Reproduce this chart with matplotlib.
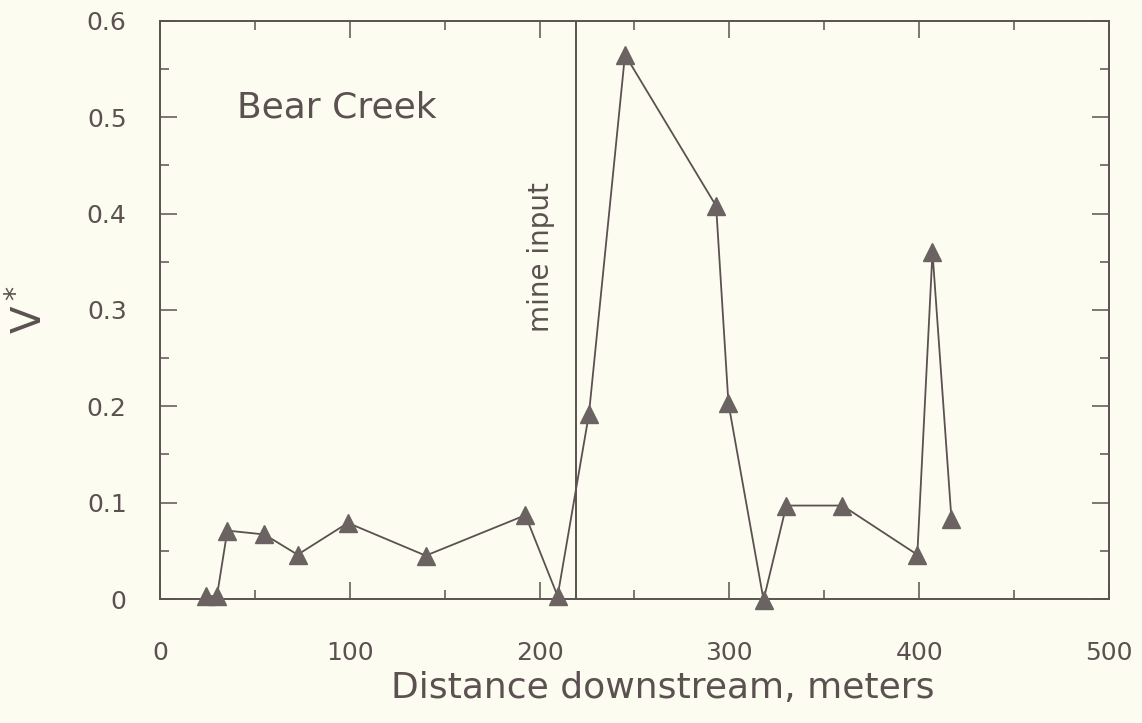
import matplotlib.pyplot as plt
from matplotlib.ticker import MultipleLocator

# distance downstream (m) and V*
distance = [24, 30, 35.5, 55, 72.5, 99, 140, 192.5, 209.5, 226, 245, 293, 299.5,
            318, 330, 359.5, 399, 407, 417]
v_star = [0.003, 0.003, 0.071, 0.067, 0.046, 0.079, 0.045, 0.087, 0.003, 0.192,
          0.565, 0.408, 0.203, -0.001, 0.097, 0.097, 0.046, 0.360, 0.083]

mine_input_x = 219
y_ticks = [0, 0.1, 0.2, 0.3, 0.4, 0.5, 0.6]
y_tick_labels = ['0', '0.1', '0.2', '0.3', '0.4', '0.5', '0.6']
x_ticks = [0, 100, 200, 300, 400, 500]

ink = '#5b5151'
paper = '#fcfdf0'

plt.rcParams['font.family'] = 'DejaVu Sans'
plt.rcParams['mathtext.default'] = 'regular'
fig = plt.figure(figsize=(11.42, 7.23), dpi=100, facecolor=paper)
ax = fig.add_axes([0.1401, 0.1715, 0.8310, 0.7995], facecolor=paper)

# mine input line
ax.axvline(mine_input_x, color=ink, lw=1.4, zorder=1)
ax.text(201, 0.355, 'mine input', rotation=90, ha='center', va='center',
        fontsize=20, color=ink)

ax.plot(distance, v_star, color=ink, lw=1.3, marker='^', markersize=13,
        markerfacecolor='#6b6262', markeredgecolor='#6b6262', zorder=3,
        clip_on=False)

ax.text(40.5, 0.5, 'Bear Creek', ha='left', va='baseline', fontsize=26, color=ink)

ax.set_xlim(0, 500)
ax.set_ylim(0, 0.6)
ax.set_xticks(x_ticks)
ax.set_yticks(y_ticks)
ax.set_yticklabels(y_tick_labels)
ax.xaxis.set_minor_locator(MultipleLocator(50))
ax.yaxis.set_minor_locator(MultipleLocator(0.05))

ax.tick_params(which='both', direction='in', top=True, right=True,
               colors=ink, width=1.1, labelsize=18, labelcolor=ink)
ax.tick_params(which='major', length=12)
ax.tick_params(which='minor', length=6.5)
ax.tick_params(axis='x', which='major', pad=30)
ax.tick_params(axis='y', which='major', pad=24)

for s in ax.spines.values():
    s.set_color(ink)
    s.set_linewidth(1.4)

ax.set_xlabel('Distance downstream, meters', fontsize=26, color=ink)
ax.xaxis.set_label_coords(0.53, -0.125)
ax.set_ylabel('V$^*$', fontsize=29, color=ink)
ax.yaxis.set_label_coords(-0.115, 0.5)

plt.savefig('out.png', dpi=100, facecolor=paper)
